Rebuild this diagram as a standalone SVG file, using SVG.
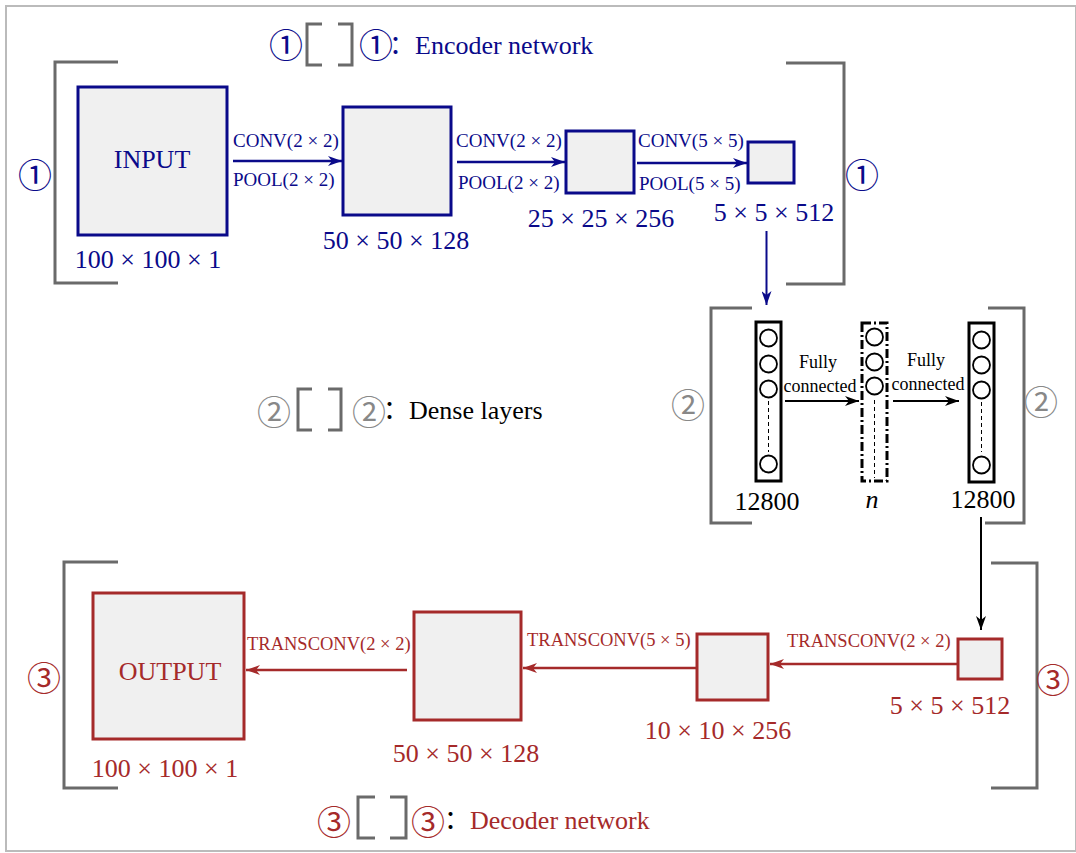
<svg xmlns="http://www.w3.org/2000/svg" width="1076" height="853" viewBox="0 0 1076 853">
<style>
text{font-family:"Liberation Serif","Noto Sans CJK SC",serif}
.circ{font-family:"Noto Sans CJK SC","Liberation Serif",serif;font-size:34px;text-anchor:middle}
.br{fill:none;stroke:#6a6a6a;stroke-width:3}
.enc{fill:#f0f0f0;stroke:#0a0a8a;stroke-width:3}
.dec{fill:#f0f0f0;stroke:#a52a2a;stroke-width:3}
.col{fill:#fff;stroke:#000;stroke-width:3}
.nd{fill:#fff;stroke:#000;stroke-width:1.8}
.dl{stroke:#000;stroke-width:1;stroke-dasharray:4,3}
.big{font-size:26px;text-anchor:middle}
.lbl{font-size:19px}
.tl{font-size:18.5px}
.fc{font-size:18px;text-anchor:middle}
.nv{fill:#0a0a8a}
.rd{fill:#a52a2a}
</style>
<defs>
<marker id="mN" markerUnits="userSpaceOnUse" markerWidth="15" markerHeight="10" refX="14" refY="5" orient="auto"><path d="M0,0 L14,5 L0,10 L4,5 z" fill="#0a0a8a"/></marker>
<marker id="mK" markerUnits="userSpaceOnUse" markerWidth="15" markerHeight="10" refX="14" refY="5" orient="auto"><path d="M0,0 L14,5 L0,10 L4,5 z" fill="#000"/></marker>
<marker id="mR" markerUnits="userSpaceOnUse" markerWidth="15" markerHeight="10" refX="14" refY="5" orient="auto"><path d="M0,0 L14,5 L0,10 L4,5 z" fill="#a52a2a"/></marker>
</defs>
<rect x="6" y="6" width="1070" height="845" fill="#fff" stroke="#bbb" stroke-width="2"/>

<g id="legend-encoder">
<text class="circ nv" x="286" y="58">①</text>
<path class="br" d="M322,24 H307 V65 H322 M338,24 H352 V65 H338"/>
<text class="circ nv" x="376" y="58">①</text>
<text class="nv" x="389" y="54" font-size="26">：Encoder network</text>
</g>
<g id="legend-dense">
<text class="circ" fill="#888" x="274" y="425">②</text>
<path class="br" d="M312,389 H298 V430 H312 M328,389 H341 V430 H328"/>
<text class="circ" fill="#888" x="369" y="425">②</text>
<text x="383" y="419" font-size="26">：Dense layers</text>
</g>
<g id="legend-decoder">
<text class="circ rd" x="334" y="835">③</text>
<path class="br" d="M375,797 H358 V838 H375 M390,797 H406 V838 H390"/>
<text class="circ rd" x="428" y="835">③</text>
<text x="444" y="829" font-size="26">：<tspan class="rd">Decoder network</tspan></text>
</g>

<g id="encoder-bracket">
<path class="br" d="M118,62 H55 V283 H118"/>
<path class="br" d="M786,63 H844 V284 H786"/>
<text class="circ nv" x="35" y="188">①</text>
<text class="circ nv" x="862" y="188">①</text>
</g>
<g id="input">
<rect class="enc" x="78" y="87" width="149" height="148"/>
<text class="big nv" x="152" y="168">INPUT</text>
<text class="big nv" x="148" y="268">100 × 100 × 1</text>
</g>
<g id="enc2">
<rect class="enc" x="343" y="107" width="108" height="108"/>
<text class="big nv" x="396" y="249">50 × 50 × 128</text>
</g>
<g id="enc3">
<rect class="enc" x="566" y="131" width="68" height="62"/>
<text class="big nv" x="601" y="227">25 × 25 × 256</text>
</g>
<g id="enc4">
<rect class="enc" x="748" y="142" width="46" height="41"/>
<text class="big nv" x="774" y="221">5 × 5 × 512</text>
</g>

<g id="dense-bracket">
<path class="br" d="M752,308 H711 V523 H752"/>
<path class="br" d="M988,308 H1024 V523 H985"/>
<text class="circ" fill="#888" x="688" y="418">②</text>
<text class="circ" fill="#888" x="1041" y="415">②</text>
</g>
<g id="dense1">
<rect class="col" x="756" y="322" width="25" height="159"/>
<circle class="nd" cx="768.5" cy="338" r="8.5"/>
<circle class="nd" cx="768.5" cy="364" r="8.5"/>
<circle class="nd" cx="768.5" cy="389" r="8.5"/>
<circle class="nd" cx="768.5" cy="464" r="8.5"/>
<line class="dl" x1="768.5" y1="401" x2="768.5" y2="452"/>
<text class="big" x="767" y="510">12800</text>
</g>
<g id="dense-n">
<rect class="col" x="862" y="323" width="25" height="158" stroke-dasharray="9,3,2,3"/>
<circle class="nd" cx="874.5" cy="337" r="8.5"/>
<circle class="nd" cx="874.5" cy="362" r="8.5"/>
<circle class="nd" cx="874.5" cy="386" r="8.5"/>
<line class="dl" x1="874.5" y1="400" x2="874.5" y2="478"/>
<text class="big" x="872" y="508" font-style="italic">n</text>
</g>
<g id="dense2">
<rect class="col" x="969" y="323" width="25" height="159"/>
<circle class="nd" cx="981.5" cy="340" r="8.5"/>
<circle class="nd" cx="981.5" cy="365" r="8.5"/>
<circle class="nd" cx="981.5" cy="390" r="8.5"/>
<circle class="nd" cx="981.5" cy="465" r="8.5"/>
<line class="dl" x1="981.5" y1="402" x2="981.5" y2="452"/>
<text class="big" x="983" y="508">12800</text>
</g>

<g id="decoder-bracket">
<path class="br" d="M118,562 H64 V788 H118"/>
<path class="br" d="M991,563 H1037 V788 H991"/>
<text class="circ rd" x="44" y="691">③</text>
<text class="circ rd" x="1053" y="693">③</text>
</g>
<g id="output">
<rect class="dec" x="93" y="593" width="151" height="146"/>
<text class="big rd" x="170" y="680">OUTPUT</text>
<text class="big rd" x="165" y="777">100 × 100 × 1</text>
</g>
<g id="dec2">
<rect class="dec" x="414" y="612" width="107" height="108"/>
<text class="big rd" x="466" y="762">50 × 50 × 128</text>
</g>
<g id="dec3">
<rect class="dec" x="697" y="634" width="71" height="66"/>
<text class="big rd" x="718" y="739">10 × 10 × 256</text>
</g>
<g id="dec4">
<rect class="dec" x="958" y="639" width="44" height="40"/>
<text class="big rd" x="950" y="714">5 × 5 × 512</text>
</g>

<g id="connectors">
<line x1="233" y1="161" x2="342" y2="161" stroke="#0a0a8a" stroke-width="2.5" marker-end="url(#mN)"/>
<text class="lbl nv" x="233" y="147">CONV(2 × 2)</text>
<text class="lbl nv" x="233" y="186">POOL(2 × 2)</text>
<line x1="457" y1="162" x2="565" y2="162" stroke="#0a0a8a" stroke-width="2.5" marker-end="url(#mN)"/>
<text class="lbl nv" x="456" y="147">CONV(2 × 2)</text>
<text class="lbl nv" x="458" y="189">POOL(2 × 2)</text>
<line x1="637" y1="163" x2="747" y2="163" stroke="#0a0a8a" stroke-width="2.5" marker-end="url(#mN)"/>
<text class="lbl nv" x="638" y="147">CONV(5 × 5)</text>
<text class="lbl nv" x="639" y="190">POOL(5 × 5)</text>
<line x1="766.5" y1="231" x2="766.5" y2="305" stroke="#0a0a8a" stroke-width="2" marker-end="url(#mN)"/>

<line x1="785" y1="401" x2="859" y2="401" stroke="#000" stroke-width="2" marker-end="url(#mK)"/>
<text class="fc" x="818" y="368">Fully</text>
<text class="fc" x="820" y="392">connected</text>
<line x1="893" y1="401" x2="959" y2="401" stroke="#000" stroke-width="2" marker-end="url(#mK)"/>
<text class="fc" x="926" y="366">Fully</text>
<text class="fc" x="928" y="390">connected</text>
<line x1="981" y1="517" x2="981" y2="630" stroke="#000" stroke-width="2" marker-end="url(#mK)"/>

<line x1="957" y1="664" x2="770" y2="664" stroke="#a52a2a" stroke-width="2.5" marker-end="url(#mR)"/>
<text class="tl rd" x="787" y="647">TRANSCONV(2 × 2)</text>
<line x1="696" y1="668" x2="523" y2="668" stroke="#a52a2a" stroke-width="2.5" marker-end="url(#mR)"/>
<text class="tl rd" x="527" y="646">TRANSCONV(5 × 5)</text>
<line x1="407" y1="670" x2="246" y2="670" stroke="#a52a2a" stroke-width="2.5" marker-end="url(#mR)"/>
<text class="tl rd" x="247" y="650">TRANSCONV(2 × 2)</text>
</g>
</svg>
